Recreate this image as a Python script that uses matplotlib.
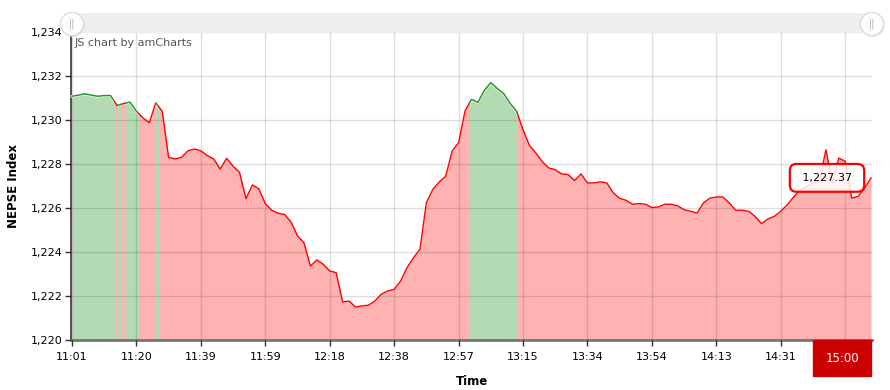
import numpy as np
import matplotlib.pyplot as plt
from matplotlib.patches import Rectangle, Circle

# NEPSE index, one value per step on the category axis
nepse = [
    1231.08, 1231.13, 1231.19, 1231.13, 1231.08, 1231.11, 1231.11, 1230.66, 1230.75, 1230.81,
    1230.40, 1230.10, 1229.88, 1230.78, 1230.40, 1228.30, 1228.23, 1228.30, 1228.60, 1228.68,
    1228.60, 1228.38, 1228.23, 1227.77, 1228.26, 1227.90, 1227.62, 1226.42, 1227.05, 1226.87,
    1226.20, 1225.90, 1225.76, 1225.71, 1225.36, 1224.73, 1224.42, 1223.36, 1223.64, 1223.44,
    1223.14, 1223.06, 1221.73, 1221.77, 1221.50, 1221.55, 1221.58, 1221.77, 1222.08, 1222.23,
    1222.30, 1222.68, 1223.29, 1223.74, 1224.12, 1226.24, 1226.85, 1227.18, 1227.45, 1228.59,
    1228.97, 1230.41, 1230.94, 1230.80, 1231.35, 1231.70, 1231.43, 1231.20, 1230.75, 1230.40,
    1229.55, 1228.84, 1228.50, 1228.10, 1227.82, 1227.74, 1227.55, 1227.52, 1227.25, 1227.55,
    1227.14, 1227.14, 1227.19, 1227.14, 1226.69, 1226.44, 1226.35, 1226.17, 1226.20, 1226.17,
    1226.02, 1226.05, 1226.17, 1226.17, 1226.10, 1225.92, 1225.85, 1225.77, 1226.23, 1226.45,
    1226.50, 1226.50, 1226.23, 1225.90, 1225.90, 1225.85, 1225.62, 1225.29, 1225.50, 1225.62,
    1225.85, 1226.15, 1226.50, 1226.83, 1226.98, 1227.14, 1227.21, 1228.65, 1227.14, 1228.27,
    1228.12, 1226.45, 1226.53, 1226.90, 1227.37,
]

# positions (in steps) where the label is shown, and the labels
tick_pos = [0, 10, 20, 30, 40, 50, 60, 70, 80, 90, 100, 110, 120]
tick_labels = ['11:01', '11:20', '11:39', '11:59', '12:18', '12:38', '12:57',
               '13:15', '13:34', '13:54', '14:13', '14:31', '']
last_time = '15:00'

# stretches coloured green (above previous close)
green_start = [-0.5, 7.18, 8.22, 12.87, 61.7]
green_end = [6.56, 7.6, 10.19, 13.38, 69.0]

y_ticks = [1220, 1222, 1224, 1226, 1228, 1230, 1232, 1234]

RED = '#ff0000'
GREEN = '#2a952a'
W, H = 890, 390

x = np.arange(len(nepse))
y = np.array(nepse)
base = y_ticks[0]

fig = plt.figure(figsize=(W / 100, H / 100), dpi=100)
ax = fig.add_axes([71 / W, (H - 340) / H, (872.3 - 71) / W, 308 / H])

# red everywhere, then green clipped to its stretches
ax.fill_between(x, base, y, color=RED, alpha=0.3, lw=0, zorder=1)
ax.plot(x, y, color=RED, lw=1, zorder=3)
for s, e in zip(green_start, green_end):
    clip = Rectangle((s, base), e - s, 20, transform=ax.transData)
    patch = ax.fill_between(x, base, y + 0.06, color='white', lw=0, zorder=1.5)
    patch.set_clip_path(clip)
    patch = ax.fill_between(x, base, y, color=GREEN, alpha=0.35, lw=0, zorder=2)
    patch.set_clip_path(clip)
    cover, = ax.plot(x, y, color='white', lw=2, zorder=3.2)
    cover.set_clip_path(clip)
    line, = ax.plot(x, y, color=GREEN, lw=1.1, zorder=3.5)
    line.set_clip_path(clip)

ax.set_xlim(-0.15, 124.2)
ax.set_ylim(1220, 1234)
ax.set_xticks(tick_pos)
ax.set_xticklabels(tick_labels)
ax.set_yticks(y_ticks)
ax.set_yticklabels([f'{v:,}' for v in y_ticks])
ax.tick_params(axis='both', labelsize=8, length=4, width=1, color='#333333')
ax.tick_params(axis='x', pad=5)
ax.tick_params(axis='y', pad=2)
ax.grid(True, color='black', alpha=0.13, lw=1, zorder=4)
ax.set_axisbelow(False)
for side in ['top', 'right']:
    ax.spines[side].set_visible(False)
ax.spines['left'].set_color('#333333')
ax.spines['left'].set_linewidth(1.2)
ax.spines['bottom'].set_color('#777777')
ax.spines['bottom'].set_linewidth(2)
ax.set_xlabel('Time', fontsize=8.5, fontweight='bold', labelpad=9)
ax.set_ylabel('NEPSE Index', fontsize=8.5, fontweight='bold', labelpad=8)

# value balloon at the last point
ax.annotate(f' {nepse[-1]:,.2f} ', xy=(x[-1], y[-1]), xytext=(-44, 0),
            textcoords='offset pixels', ha='center', va='center', fontsize=8,
            bbox=dict(boxstyle='round,pad=0.8,rounding_size=0.6', fc=(1, 1, 1, 0.85),
                      ec=RED, lw=1.6), zorder=10)

# overlay in pixel units for the scrollbar, credit and time balloon
ov = fig.add_axes([0, 0, 1, 1], facecolor='none')
ov.set_xlim(0, W)
ov.set_ylim(H, 0)
ov.axis('off')
ov.add_patch(Rectangle((72, 13), 801, 20, color='#eeeeee', lw=0))
for cx in [72, 872]:
    ov.add_patch(Circle((cx + 1, 25), 12, color='#dddddd', lw=0, alpha=0.7))
    ov.add_patch(Circle((cx, 24), 11.5, fc='white', ec='#dddddd', lw=1))
    ov.text(cx, 24, '||', ha='center', va='center', fontsize=7, color='#aaaaaa')
ov.text(75, 43, 'JS chart by amCharts', fontsize=8, color='#555555', va='center')
ov.text(842, 358, last_time, ha='center', va='center', fontsize=8.5, color='white',
        bbox=dict(boxstyle='square,pad=1.0', fc='#cc0000', ec='#cc0000'))

fig.savefig('out.png', dpi=100)
